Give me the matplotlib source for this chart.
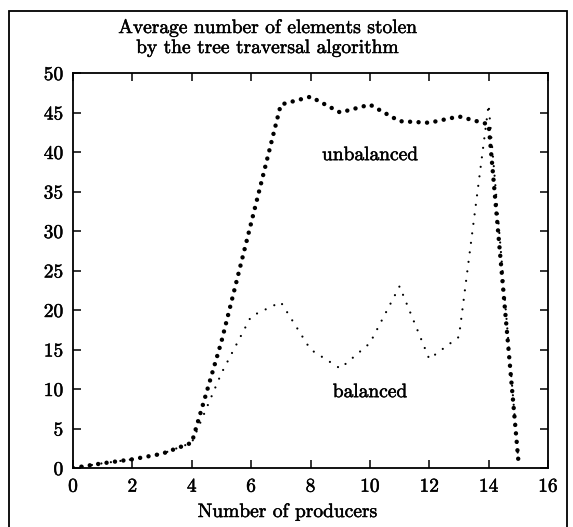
import matplotlib
matplotlib.use('Agg')
from matplotlib import pyplot as plt
from matplotlib.patches import Rectangle
import matplotlib.patheffects as pe

# values
producers = list(range(16))
unbalanced = [0, 0.6, 1.1, 1.8, 3.2, 16, 31, 46, 47, 45, 46, 43.9, 43.7, 44.5, 43.5, 1]
balanced = [0, 0.6, 1.1, 1.8, 3.2, 12, 19.2, 21, 15, 12.6, 15.8, 23, 13.8, 16.6, 46, 1]
x_ticks = list(range(0, 17, 2))
y_ticks = list(range(0, 51, 5))

plt.rcParams['font.family'] = 'cmr10'
plt.rcParams['font.size'] = 14
# scanned print looks a little heavier than plain cmr10
bold = [pe.withStroke(linewidth=0.35, foreground='black')]

W, H = 573, 527
fig = plt.figure(figsize=(W / 100, H / 100), dpi=100)
ax = fig.add_axes([73 / W, 59 / H, 475 / W, 395 / H])

ax.plot(producers, balanced, color='black', lw=1.6,
        linestyle=(0, (0.01, 4.3)), dash_capstyle='round')
ax.plot(producers, unbalanced, color='black', lw=3.2,
        linestyle=(0, (0.01, 1.9)), dash_capstyle='round')

ax.set_xlim(0, 16)
ax.set_ylim(0, 50)
ax.set_xticks(x_ticks)
ax.set_yticks(y_ticks)
ax.tick_params(direction='in', length=6, width=1.1, top=True, right=True,
               labeltop=False, labelright=False, pad=7)
for lab in ax.get_xticklabels() + ax.get_yticklabels():
    lab.set_path_effects(bold)
for s in ax.spines.values():
    s.set_linewidth(1.3)

ax.text(10, 39.6, 'unbalanced', ha='center', va='center', path_effects=bold)
ax.text(10, 9.6, 'balanced', ha='center', va='center', path_effects=bold)

fig.text(267 / W, 1 - 28 / H, 'Average number of elements stolen',
         ha='center', va='center', path_effects=bold)
fig.text(267 / W, 1 - 48 / H, 'by the tree traversal algorithm',
         ha='center', va='center', path_effects=bold)
fig.text(287 / W, 1 - 512 / H, 'Number of producers',
         ha='center', va='center', path_effects=bold)

# outer frame around the whole figure
fig.patches.append(Rectangle((9 / W, -0.1), (567 - 9) / W, 1 - 11 / H + 0.1,
                             transform=fig.transFigure, fill=False,
                             lw=1.3, edgecolor='black'))

fig.savefig('out.png', dpi=100)
